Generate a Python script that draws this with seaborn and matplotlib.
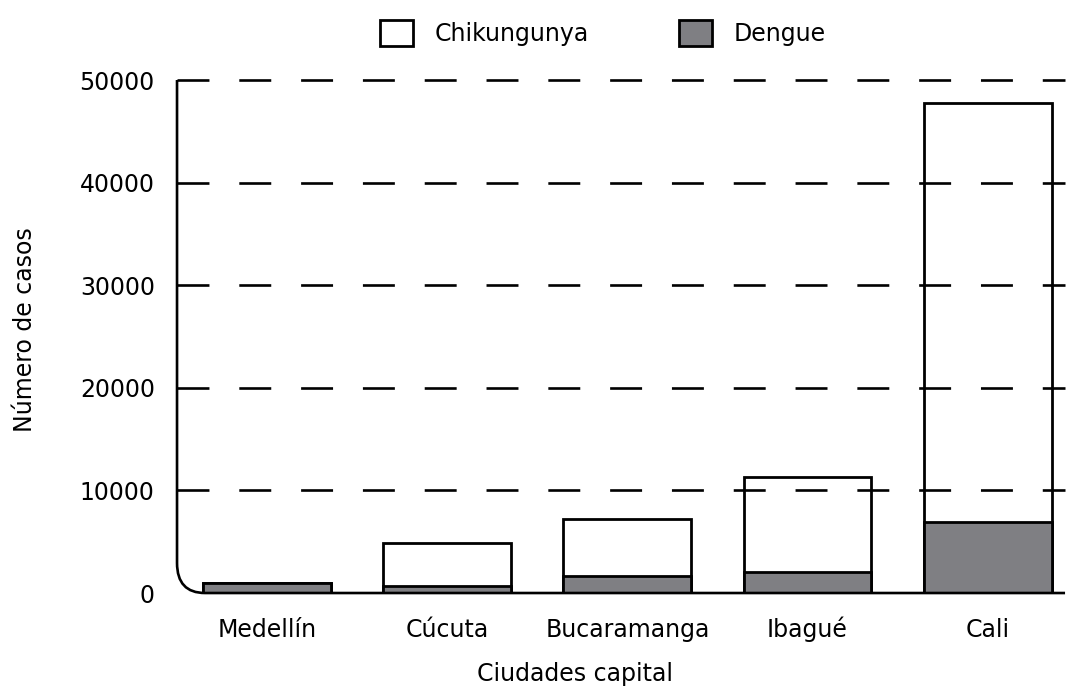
import numpy as np
import matplotlib
matplotlib.use('Agg')
import matplotlib.pyplot as plt
from matplotlib.path import Path
from matplotlib.patches import PathPatch, Patch
import pandas as pd
import seaborn as sns

# datos
ciudades = ['Medellín', 'Cúcuta', 'Bucaramanga', 'Ibagué', 'Cali']
dengue = [980, 650, 1650, 2050, 6900]
chikungunya = [0, 4200, 5550, 9250, 40850]
grid_vals = [10000, 20000, 30000, 40000, 50000]

df = pd.DataFrame({'ciudad': ciudades, 'dengue': dengue, 'chik': chikungunya})
df['total'] = df['dengue'] + df['chik']

sns.set_style('white')
plt.rcParams['font.family'] = ['DejaVu Sans']
plt.rcParams['lines.scale_dashes'] = False
for k in ['text.color', 'axes.labelcolor', 'xtick.color', 'ytick.color']:
    plt.rcParams[k] = 'black'

gris = '#7f7f83'
fs = 17

fig = plt.figure(figsize=(10.69, 6.91), dpi=100)
ax = fig.add_axes([0.1656, 0.1418, 0.8307, 0.7424])

sns.barplot(data=df, x='ciudad', y='total', color='white', edgecolor='black',
            linewidth=2.0, width=0.71, saturation=1, ax=ax)
sns.barplot(data=df, x='ciudad', y='dengue', color=gris, edgecolor='black',
            linewidth=2.0, width=0.71, saturation=1, ax=ax)

ax.set_xlim(-0.5, 4.43)
ax.set_ylim(0, 50000)

# lineas de referencia punteadas
for v in grid_vals:
    ax.axhline(v, color='black', lw=1.9, dashes=(23, 21.5), zorder=5, clip_on=False)

for s in ax.spines.values():
    s.set_visible(False)

# eje con esquina redondeada
rx, ry = 28 / 888, 30 / 513
verts = [(0, 1), (0, ry), (0, 0), (rx, 0), (1, 0)]
codes = [Path.MOVETO, Path.LINETO, Path.CURVE3, Path.CURVE3, Path.LINETO]
ax.add_patch(PathPatch(Path(verts, codes), transform=ax.transAxes, fill=False,
                       lw=1.9, edgecolor='black', clip_on=False, zorder=6,
                       capstyle='butt', joinstyle='miter'))

ax.set_yticks([0] + grid_vals)
ax.tick_params(axis='both', length=0, labelsize=fs)
ax.tick_params(axis='y', pad=16)
ax.tick_params(axis='x', pad=32)
for lbl in ax.get_xticklabels():
    lbl.set_verticalalignment('baseline')

ax.set_xlabel('Ciudades capital', fontsize=fs)
ax.set_ylabel('Número de casos', fontsize=fs)
ax.xaxis.set_label_coords(0.448, -0.135)
ax.yaxis.set_label_coords(-0.158, 0.513)

handles = [Patch(facecolor='white', edgecolor='black', lw=2.0, label='Chikungunya'),
           Patch(facecolor=gris, edgecolor='black', lw=2.0, label='Dengue')]
fig.legend(handles=handles, loc='center', bbox_to_anchor=(0.564, 0.952), ncol=2,
           frameon=False, fontsize=fs, handlelength=1.4, handleheight=1.35,
           handletextpad=0.93, columnspacing=3.8)

plt.savefig('out.png', dpi=100)
